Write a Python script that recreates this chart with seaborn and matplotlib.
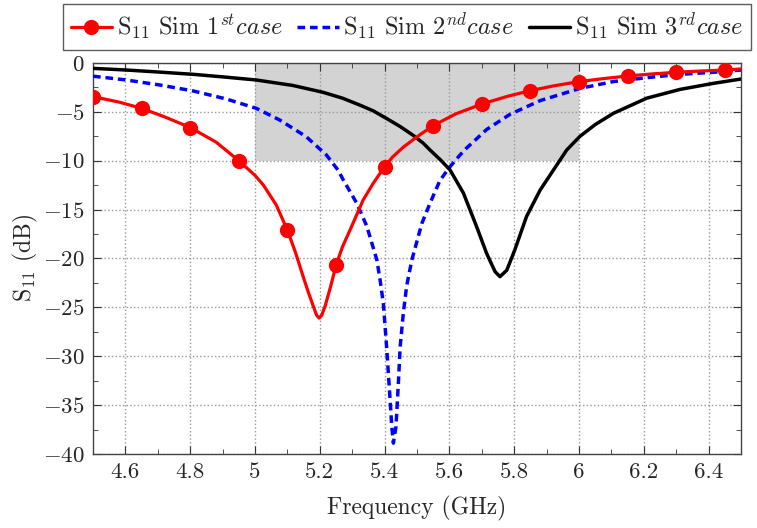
import numpy as np
import pandas as pd
import matplotlib
matplotlib.use("Agg")
import matplotlib.pyplot as plt
import seaborn as sns
from matplotlib.ticker import MultipleLocator
from matplotlib.patches import Rectangle

# ---- data ----
red_freq = [4.5, 4.58, 4.65, 4.72, 4.8, 4.88, 4.95, 5.0, 5.026, 5.065, 5.1, 5.125, 5.149,
            5.165, 5.18, 5.19, 5.198, 5.206, 5.216, 5.233, 5.25, 5.27, 5.293, 5.334, 5.365,
            5.4, 5.425, 5.458, 5.5, 5.55, 5.62, 5.7, 5.78, 5.85, 5.92, 6.0, 6.075, 6.15,
            6.225, 6.3, 6.375, 6.45, 6.5]
red_s11 = [-3.44, -4.0, -4.64, -5.5, -6.6, -8.1, -10.0, -11.5, -12.5, -14.5, -17.1, -19.4, -21.9,
           -23.5, -24.9, -25.8, -26.1, -25.8, -24.9, -22.9, -20.7, -18.8, -17.1, -14.0, -12.3,
           -10.6, -9.6, -8.6, -7.55, -6.4, -5.2, -4.2, -3.4, -2.83, -2.35, -1.9, -1.6, -1.33,
           -1.12, -0.95, -0.82, -0.72, -0.61]
red_marker_freq = [4.5, 4.65, 4.8, 4.95, 5.1, 5.25, 5.4, 5.55, 5.7, 5.85, 6.0, 6.15, 6.3, 6.45]

blue_freq = [4.5, 4.603, 4.706, 4.809, 4.911, 5.004, 5.076, 5.158, 5.22, 5.256, 5.273, 5.314,
             5.345, 5.376, 5.386, 5.396, 5.406, 5.416, 5.422, 5.427, 5.435, 5.442, 5.448,
             5.458, 5.468, 5.484, 5.515, 5.54, 5.571, 5.602, 5.633, 5.653, 5.715, 5.787,
             5.88, 6.003, 6.106, 6.209, 6.312, 6.415, 6.5]
blue_s11 = [-1.35, -1.74, -2.25, -2.86, -3.68, -4.64, -5.83, -7.54, -9.4, -10.95, -12.0, -14.35,
            -16.7, -20.15, -22.2, -24.6, -29.0, -34.0, -37.2, -38.9, -37.2, -33.0, -29.0,
            -25.5, -22.8, -20.15, -16.4, -14.35, -12.0, -10.6, -9.4, -8.7, -6.8, -5.25,
            -3.85, -2.6, -1.9, -1.5, -1.16, -0.95, -0.72]

black_freq = [4.5, 4.603, 4.7, 4.809, 4.9, 5.004, 5.117, 5.21, 5.27, 5.323, 5.365, 5.405,
              5.448, 5.488, 5.519, 5.54, 5.572, 5.602, 5.643, 5.684, 5.715, 5.741, 5.756,
              5.777, 5.802, 5.838, 5.88, 5.921, 5.962, 6.003, 6.05, 6.106, 6.209, 6.312,
              6.415, 6.5]
black_s11 = [-0.55, -0.72, -0.92, -1.16, -1.42, -1.74, -2.3, -3.0, -3.6, -4.3, -4.9, -5.66,
             -6.5, -7.4, -8.2, -8.9, -9.9, -10.95, -13.3, -16.75, -19.5, -21.35, -21.86,
             -21.2, -19.1, -15.7, -13.0, -10.95, -8.9, -7.5, -6.3, -5.15, -3.6, -2.7,
             -2.08, -1.64]

labels = [r'S$_{11}$ Sim 1$^{st}case$', r'S$_{11}$ Sim 2$^{nd}case$', r'S$_{11}$ Sim 3$^{rd}case$']
band_freq = [5.0, 6.0]
band_level = [-10, 0]
xtick_vals = [4.6, 4.8, 5.0, 5.2, 5.4, 5.6, 5.8, 6.0, 6.2, 6.4]
xtick_text = ['4.6', '4.8', '5', '5.2', '5.4', '5.6', '5.8', '6', '6.2', '6.4']

# ---- style ----
sns.set_style("ticks")
plt.rcParams['font.family'] = 'serif'
plt.rcParams['font.serif'] = ['cmr10', 'DejaVu Serif']
plt.rcParams['mathtext.fontset'] = 'cm'
plt.rcParams['axes.formatter.use_mathtext'] = True
plt.rcParams['font.size'] = 16

fig = plt.figure(figsize=(7.57, 5.28), dpi=100)
ax = fig.add_axes([0.1229, 0.1402, 0.856, 0.7405])

df_red = pd.DataFrame({'f': red_freq, 's': red_s11})
df_blue = pd.DataFrame({'f': blue_freq, 's': blue_s11})
df_black = pd.DataFrame({'f': black_freq, 's': black_s11})

mark_idx = [i for i, f in enumerate(red_freq) if any(abs(f - m) < 1e-9 for m in red_marker_freq)]

ax.add_patch(Rectangle((band_freq[0], band_level[0]), band_freq[1] - band_freq[0],
                       band_level[1] - band_level[0], facecolor='#d3d3d3',
                       edgecolor='none', zorder=0.2))

sns.lineplot(data=df_red, x='f', y='s', ax=ax, color='red', lw=2.3, marker='o',
             markersize=11, markevery=mark_idx, markeredgewidth=0,
             estimator=None, sort=False, label=labels[0], zorder=4)
sns.lineplot(data=df_blue, x='f', y='s', ax=ax, color='blue', lw=2.5,
             dashes=False, linestyle=(0, (2.2, 1.4)),
             estimator=None, sort=False, label=labels[1], zorder=3)
sns.lineplot(data=df_black, x='f', y='s', ax=ax, color='black', lw=2.5,
             estimator=None, sort=False, label=labels[2], zorder=3)

ax.set_xlim(4.5, 6.5)
ax.set_ylim(-40, 0)
ax.xaxis.set_major_locator(MultipleLocator(0.2))
ax.xaxis.set_minor_locator(MultipleLocator(0.1))
ax.yaxis.set_major_locator(MultipleLocator(5))
ax.yaxis.set_minor_locator(MultipleLocator(2.5))
ax.set_xticks(xtick_vals)
ax.set_xticklabels(xtick_text)
ax.tick_params(which='both', direction='in', top=True, right=True, labelsize=16.5, color='#333333')
ax.tick_params(which='major', length=6, pad=6)
ax.tick_params(which='minor', length=3.5)
ax.set_axisbelow(True)
ax.grid(True, which='major', linestyle=':', color='#999999', linewidth=1.0)
for sp in ax.spines.values():
    sp.set_color('#444444')
    sp.set_linewidth(1.0)

ax.set_xlabel('Frequency (GHz)', fontsize=17, labelpad=10)
ax.set_ylabel(r'S$_{11}$ (dB)', fontsize=17, labelpad=2)

leg = ax.legend(loc='lower center', bbox_to_anchor=(0.4846, 1.0), ncol=3, frameon=True,
                fancybox=False, edgecolor='#333333', fontsize=17.5, handlelength=1.7,
                handletextpad=0.2, columnspacing=0.6, borderaxespad=0.55, borderpad=0.3)
leg.get_frame().set_linewidth(1.0)

fig.savefig('out.png', dpi=100)
